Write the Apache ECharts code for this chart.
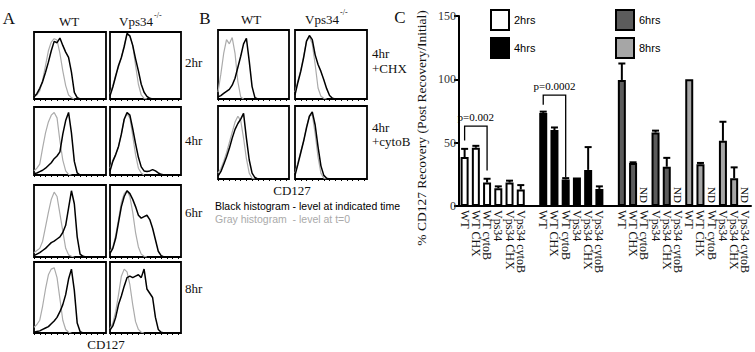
<!DOCTYPE html>
<html>
<head>
<meta charset="utf-8">
<script src="https://cdn.jsdelivr.net/npm/echarts@6/dist/echarts.min.js"></script>
<style>
html, body { margin: 0; padding: 0; background: #fff; }
#main { width: 755px; height: 352px; }
</style>
</head>
<body>
<div id="main"></div>
<script>
// ---- panel C: % CD127 recovery ----
const conditions = ['WT', 'WT CHX', 'WT cytoB', 'Vps34', 'Vps34 CHX', 'Vps34 cytoB'];
const timepoints = ['2hrs', '4hrs', '6hrs', '8hrs'];
const recovery2h = [38.6, 46, 18.5, 14, 18.5, 13];
const recovery4h = [73.5, 60, 21, 22.5, 28.5, 13.5];
const recovery6h = [99.5, 34, null, 58, 31, null];   // null = ND
const recovery8h = [100, 33, null, 51.5, 22, null];
const error2h = [6.5, 1.5, 3, 1.5, 1.5, 3.5];
const error4h = [1, 2, 1, null, 18, 2];
const error6h = [13, 0.5, null, 1.5, 7, null];
const error8h = [null, 1, null, 15, 8.5, null];
const yTicks = [0, 50, 100, 150];
// p-value brackets: [from bar, to bar, top, left foot, right foot]
const brackets = [[0, 2, 63, 51.7, 28], [7, 9, 87.5, 80, 22.6]];
const bracketLabels = ['p=0.002', 'p=0.0002'];

// ---- panels A/B: CD127 histograms (% of max count per channel bin) ----
const aWt2Gray = [4, 6, 12, 28, 50, 72, 85, 90, 88, 68, 42, 20, 6, 2, 0];
const aWt2Black = [3, 8, 16, 26, 40, 55, 72, 86, 84, 91, 80, 70, 62, 40, 10, 2, 0];
const aKo2Gray = [8, 20, 36, 48, 62, 80, 96, 95, 80, 50, 22, 6, 1, 0];
const aKo2Black = [5, 18, 34, 50, 62, 78, 98, 94, 80, 60, 42, 22, 10, 4, 1, 0];
const aWt4Gray = [6, 10, 16, 40, 62, 78, 88, 92, 84, 50, 22, 6, 1, 0];
const aWt4Black = [2, 3, 5, 7, 10, 14, 18, 24, 28, 34, 60, 80, 92, 62, 20, 3, 0];
const aKo4Gray = [10, 22, 30, 42, 60, 82, 90, 84, 58, 30, 10, 3, 0];
const aKo4Black = [6, 20, 30, 42, 60, 82, 92, 88, 68, 46, 26, 12, 6, 5, 6, 8, 6, 3, 1, 0];
const aWt6Gray = [6, 9, 12, 22, 42, 62, 80, 90, 84, 60, 36, 12, 3, 1, 0];
const aWt6Black = [2, 4, 6, 9, 12, 16, 20, 22, 25, 28, 34, 44, 68, 92, 74, 28, 4, 1, 0];
const aKo6Gray = [8, 14, 30, 52, 76, 88, 92, 84, 62, 34, 14, 4, 1, 0];
const aKo6Black = [5, 12, 26, 48, 70, 84, 92, 88, 80, 70, 58, 54, 56, 58, 52, 40, 24, 8, 2, 0];
const aWt8Gray = [8, 12, 18, 38, 62, 82, 90, 92, 78, 48, 18, 5, 1, 0];
const aWt8Black = [1, 2, 3, 5, 7, 9, 13, 17, 22, 30, 40, 54, 76, 90, 60, 14, 2, 0];
const aKo8Gray = [6, 14, 30, 54, 80, 90, 86, 68, 40, 16, 5, 1, 0];
const aKo8Black = [4, 10, 22, 40, 52, 66, 78, 80, 78, 80, 82, 78, 90, 62, 56, 50, 22, 5, 1, 0];
const bWtChxGray = [10, 36, 66, 86, 80, 89, 66, 25, 3, 0];
const bWtChxBlack = [3, 5, 8, 11, 14, 20, 30, 46, 62, 80, 88, 55, 18, 2, 0];
const bKoChxGray = [10, 26, 42, 62, 84, 90, 80, 50, 16, 4, 1, 0];
const bKoChxBlack = [6, 24, 40, 60, 84, 92, 86, 64, 50, 40, 28, 15, 5, 1, 0];
const bWtCytoGray = [8, 14, 24, 36, 50, 64, 78, 86, 80, 56, 28, 8, 1, 0];
const bWtCytoBlack = [4, 10, 20, 30, 42, 56, 68, 76, 82, 90, 56, 26, 8, 2, 0];
const bKoCytoGray = [8, 22, 38, 52, 72, 86, 88, 62, 30, 8, 1, 0];
const bKoCytoBlack = [5, 20, 36, 52, 70, 86, 92, 74, 44, 18, 5, 1, 0];
const histBins = Array.from({length: 26}, (_, i) => String(i));

const SERIF = '"Liberation Serif", "Times New Roman", serif';
const SANS = '"Liberation Sans", Arial, sans-serif';

// category layout for panel C: one spacer between 2/4 and 4/6 hour groups
const groupStart = [0, 7, 14, 20];
const categories = [];
for (let i = 0; i < 26; i++) categories.push('');
groupStart.forEach(s => conditions.forEach((c, j) => { categories[s + j] = c; }));

const recovery = [recovery2h, recovery4h, recovery6h, recovery8h];
const errors = [error2h, error4h, error6h, error8h];
const barColors = ['#ffffff', '#000000', '#5c5c5c', '#a6a6a6'];

const barSeries = timepoints.map((t, g) => {
    const data = categories.map(() => null);
    recovery[g].forEach((v, j) => { data[groupStart[g] + j] = v; });
    return {
        name: t,
        type: 'bar',
        xAxisIndex: 0,
        yAxisIndex: 0,
        data: data,
        barWidth: 8,
        barGap: '-100%',
        itemStyle: { color: barColors[g], borderColor: '#000', borderWidth: 2 },
        z: 2
    };
});

const errData = [];
const ndData = [];
recovery.forEach((vals, g) => {
    vals.forEach((v, j) => {
        const idx = groupStart[g] + j;
        if (v === null) { ndData.push([idx, 0]); return; }
        if (errors[g][j] !== null) errData.push([idx, v, errors[g][j]]);
    });
});

let chart = null;
const option = {
    animation: false,
    grid: [
        { left: 459, top: 16, width: 292, height: 190, outerBoundsMode: 'none' }
    ],
    xAxis: [{
        type: 'category',
        gridIndex: 0,
        data: categories,
        axisLine: { lineStyle: { color: '#000', width: 2 } },
        axisTick: { show: false },
        axisLabel: {
            rotate: -90, interval: 0, margin: 4,
            fontFamily: SERIF, fontSize: 12, color: '#111'
        },
        splitLine: { show: false }
    }],
    yAxis: [{
        type: 'value',
        gridIndex: 0,
        min: yTicks[0],
        max: yTicks[yTicks.length - 1],
        interval: 50,
        axisLine: { show: true, lineStyle: { color: '#000', width: 2 } },
        axisTick: { show: true, length: 5, lineStyle: { color: '#000', width: 2 } },
        axisLabel: { fontFamily: SERIF, fontSize: 12, color: '#333', margin: 3 },
        splitLine: { show: false }
    }],
    legend: [
        {
            data: timepoints.slice(0, 2), left: 485, top: 4, orient: 'vertical',
            icon: 'rect', itemWidth: 18, itemHeight: 20, itemGap: 6,
            itemStyle: { borderColor: '#000', borderWidth: 2 },
            textStyle: { fontFamily: SANS, fontSize: 11, color: '#000' },
            selectedMode: false
        },
        {
            data: timepoints.slice(2), left: 610, top: 4, orient: 'vertical',
            icon: 'rect', itemWidth: 18, itemHeight: 20, itemGap: 6,
            itemStyle: { borderColor: '#000', borderWidth: 2 },
            textStyle: { fontFamily: SANS, fontSize: 11, color: '#000' },
            selectedMode: false
        }
    ],
    series: barSeries.concat([
        {
            type: 'custom',
            xAxisIndex: 0, yAxisIndex: 0,
            data: errData,
            encode: { x: 0, y: 1 },
            itemStyle: { color: '#000' },
            z: 3,
            renderItem: function (params, api) {
                const x = api.value(0);
                const base = api.coord([x, api.value(1)]);
                const top = api.coord([x, api.value(1) + api.value(2)]);
                const st = { stroke: '#000', lineWidth: 2 };
                return { type: 'group', children: [
                    { type: 'line', shape: { x1: base[0], y1: base[1], x2: top[0], y2: top[1] }, style: st },
                    { type: 'line', shape: { x1: top[0] - 3.5, y1: top[1], x2: top[0] + 3.5, y2: top[1] }, style: st }
                ] };
            }
        },
        {
            type: 'custom',
            xAxisIndex: 0, yAxisIndex: 0,
            data: ndData,
            encode: { x: 0, y: 1 },
            itemStyle: { color: '#000' },
            renderItem: function (params, api) {
                const p = api.coord([api.value(0), 0]);
                return {
                    type: 'text', x: p[0], y: p[1] - 11, rotation: -Math.PI / 2,
                    style: { text: 'ND', font: '11px ' + SERIF, fill: '#000', align: 'center', verticalAlign: 'middle' }
                };
            }
        },
        {
            type: 'custom',
            xAxisIndex: 0, yAxisIndex: 0,
            data: brackets,
            encode: { x: [0, 1], y: [2, 3, 4] },
            itemStyle: { color: '#000' },
            renderItem: function (params, api) {
                const a = api.coord([api.value(0), api.value(2)]);
                const b = api.coord([api.value(1), api.value(2)]);
                const la = api.coord([api.value(0), api.value(3)]);
                const rb = api.coord([api.value(1), api.value(4)]);
                return { type: 'group', children: [
                    { type: 'polyline', shape: { points: [la, a, b, rb] }, style: { stroke: '#000', lineWidth: 1.3, fill: 'none' } },
                    { type: 'text', x: (a[0] + b[0]) / 2, y: a[1] - 4,
                      style: { text: bracketLabels[params.dataIndex], font: '11px ' + SERIF, fill: '#000', align: 'center', verticalAlign: 'bottom' } }
                ] };
            }
        }
    ]),
    graphic: []
};

// histogram panels: layout only, data comes from the arrays above
const histPanels = [
    [aWt2Gray, aWt2Black, 34, 32, 72, 67], [aKo2Gray, aKo2Black, 110, 32, 71, 67],
    [aWt4Gray, aWt4Black, 34, 107, 72, 68], [aKo4Gray, aKo4Black, 110, 107, 71, 68],
    [aWt6Gray, aWt6Black, 34, 185, 72, 72], [aKo6Gray, aKo6Black, 110, 185, 71, 72],
    [aWt8Gray, aWt8Black, 34, 262, 72, 71], [aKo8Gray, aKo8Black, 110, 262, 71, 71],
    [bWtChxGray, bWtChxBlack, 218, 30, 71, 69], [bKoChxGray, bKoChxBlack, 295, 30, 72, 69],
    [bWtCytoGray, bWtCytoBlack, 218, 106, 71, 73], [bKoCytoGray, bKoCytoBlack, 295, 106, 72, 73]
];

histPanels.forEach((p, k) => {
    const gi = k + 1;
    option.grid.push({
        left: p[2], top: p[3], width: p[4], height: p[5], show: true,
        borderColor: '#000', borderWidth: 1.8, backgroundColor: 'transparent', outerBoundsMode: 'none'
    });
    option.xAxis.push({
        type: 'category', gridIndex: gi, data: histBins, boundaryGap: false,
        axisLine: { show: false },
        axisTick: { show: true, inside: false, length: 2, interval: 1, lineStyle: { color: '#000', width: 1 } },
        axisLabel: { show: false }, splitLine: { show: false }
    });
    option.yAxis.push({
        type: 'value', gridIndex: gi, min: 0, max: 100, show: false, splitLine: { show: false }
    });
    option.series.push({
        type: 'line', xAxisIndex: gi, yAxisIndex: gi, data: p[0], showSymbol: false,
        lineStyle: { color: '#ababab', width: 1.2 }, silent: true, z: 2
    });
    option.series.push({
        type: 'line', xAxisIndex: gi, yAxisIndex: gi, data: p[1], showSymbol: false,
        lineStyle: { color: '#000', width: 1.5 }, silent: true, z: 3
    });
});

function txt(text, x, y, size, extra) {
    return Object.assign({
        type: 'text', x: x, y: y,
        style: { text: text, font: size + 'px ' + SERIF, fill: '#111', align: 'center', verticalAlign: 'middle' }
    }, extra || {});
}
function styled(el, style) { Object.assign(el.style, style); return el; }

option.graphic = [
    txt('A', 9, 18, 17),
    txt('WT', 69, 21, 13),
    styled(txt('Vps34', 119, 21, 13), { align: 'left' }),
    styled(txt('-/-', 154, 15, 8), { align: 'left' }),
    styled(txt('2hr', 185, 62, 13), { align: 'left' }),
    styled(txt('4hr', 185, 140, 13), { align: 'left' }),
    styled(txt('6hr', 185, 212, 13), { align: 'left' }),
    styled(txt('8hr', 185, 288, 13), { align: 'left' }),
    txt('CD127', 106, 344, 13),
    txt('B', 205, 18, 17),
    txt('WT', 251, 19, 13),
    styled(txt('Vps34', 305, 19, 13), { align: 'left' }),
    styled(txt('-/-', 340, 12, 8), { align: 'left' }),
    styled(txt('4hr', 372, 53, 13), { align: 'left' }),
    styled(txt('+CHX', 372, 68, 13), { align: 'left' }),
    styled(txt('4hr', 372, 127, 13), { align: 'left' }),
    styled(txt('+cytoB', 372, 141, 13), { align: 'left' }),
    txt('CD127', 292, 190, 13),
    styled(txt('Black histogram - level at indicated time', 215, 206, 10), { align: 'left', font: '10.5px ' + SANS, fill: '#000' }),
    styled(txt('Gray histogram  - level at t=0', 215, 219, 10), { align: 'left', font: '10.5px ' + SANS, fill: '#aaaaaa' }),
    txt('C', 400, 17, 17),
    txt('% CD127 Recovery (Post Recovery/Initial)', 421, 128, 13.5, { rotation: Math.PI / 2 })
];

chart = echarts.init(document.getElementById('main'), null, { renderer: 'svg' });
chart.setOption(option);

window.addEventListener('resize', function () { chart.resize(); }, { passive: true });
</script>
</body>
</html>
